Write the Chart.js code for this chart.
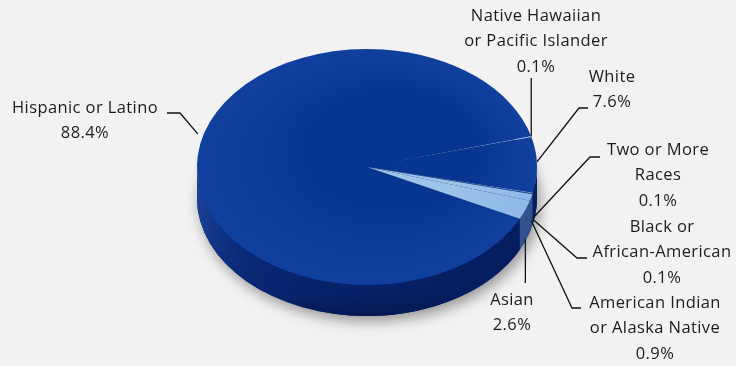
<!DOCTYPE html>
<html>
<head>
<meta charset="utf-8">
<script src="https://cdn.jsdelivr.net/npm/chart.js@4.4.1/dist/chart.umd.min.js"></script>
<style>
  html, body { margin: 0; padding: 0; background: #f2f2f2; }
  canvas { display: block; }
</style>
</head>
<body>
<canvas id="race-pie" width="736" height="366"></canvas>
<script>
// Data, in drawing order (clockwise from the Hispanic slice)
const categories = [
  ['Hispanic or Latino'],
  ['Native Hawaiian', 'or Pacific Islander'],
  ['White'],
  ['Two or More', 'Races'],
  ['Black or', 'African-American'],
  ['American Indian', 'or Alaska Native'],
  ['Asian']
];
const shares = [88.4, 0.1, 7.6, 0.1, 0.1, 0.9, 2.6];

// Look of the 3D pie
const DARK = '#073692';
const LIGHT = '#9cc3e8';
const sliceColors = [DARK, LIGHT, DARK, LIGHT, DARK, LIGHT, LIGHT];
const sideColors = ['#062674', '#3f68ae', '#062674', '#3f68ae', '#062674', '#3f68ae', '#3f68ae'];
const centerY = 167;      // centre of the top face on screen
const flat = 118 / 170;   // vertical squash of the top face
const depth = 31;         // thickness of the pie

// Where each label sits: text centre of first line, leader elbow/tail, anchor drop
const labelLayout = [
  { x: 85,  y: 108, path: [[180, 113], [167, 113]], drop: -22 },
  { x: 536, y: 16,  vertical: 78, drop: 0 },
  { x: 612, y: 77,  path: [[579, 108], [588, 108]], drop: -3 },
  { x: 658, y: 150, path: [[590, 157], [600, 157]], drop: 25 },
  { x: 662, y: 227, path: [[577, 258], [587, 258]], drop: 25 },
  { x: 655, y: 303, path: [[572, 308], [581, 308]], drop: 23 },
  { x: 512, y: 300, vertical: 283, drop: 29 }
];
const lineGap = 25.5;

// Draws side walls + shadow, then squashes the pie drawn by Chart.js
const pie3d = {
  id: 'pie3d',
  beforeDatasetsDraw(chart) {
    const ctx = chart.ctx;
    const arcs = chart.getDatasetMeta(0).data;
    const { x, y, outerRadius: r } = arcs[0];
    const ry = r * flat;

    // soft shadow under the disc
    ctx.save();
    ctx.shadowColor = 'rgba(0,0,0,0.4)';
    ctx.shadowBlur = 14;
    ctx.shadowOffsetX = 3;
    ctx.shadowOffsetY = 5;
    ctx.beginPath();
    ctx.ellipse(x, centerY + depth, r, ry, 0, 0, Math.PI * 2);
    ctx.fillStyle = '#051f5c';
    ctx.fill();
    ctx.restore();

    // front side walls, one piece per slice
    arcs.forEach(function(arc, i) {
      for (let k = -1; k <= 2; k++) {
        const s = Math.max(arc.startAngle, 2 * Math.PI * k);
        const e = Math.min(arc.endAngle, Math.PI + 2 * Math.PI * k);
        if (e <= s) continue;
        ctx.save();
        ctx.beginPath();
        ctx.ellipse(x, centerY, r, ry, 0, s, e);
        ctx.lineTo(x + r * Math.cos(e), centerY + depth + ry * Math.sin(e));
        ctx.ellipse(x, centerY + depth, r, ry, 0, e, s, true);
        ctx.closePath();
        ctx.fillStyle = sideColors[i];
        ctx.fill();
        // shading across the wall
        const g = ctx.createLinearGradient(x - r, 0, x + r, 0);
        g.addColorStop(0, 'rgba(70,120,220,0.35)');
        g.addColorStop(0.15, 'rgba(30,70,170,0.12)');
        g.addColorStop(0.5, 'rgba(0,0,30,0.08)');
        g.addColorStop(1, 'rgba(0,0,30,0.2)');
        ctx.fillStyle = g;
        ctx.fill();
        const v = ctx.createLinearGradient(0, centerY, 0, centerY + ry + depth);
        v.addColorStop(0, 'rgba(0,0,20,0)');
        v.addColorStop(0.85, 'rgba(0,0,20,0.08)');
        v.addColorStop(1, 'rgba(0,0,20,0.3)');
        ctx.fillStyle = v;
        ctx.fill();
        ctx.restore();
      }
    });

    // squash the circle into the top face
    ctx.save();
    ctx.translate(x, centerY);
    ctx.scale(1, flat);
    ctx.translate(-x, -y);
  },
  afterDatasetsDraw(chart) {
    const ctx = chart.ctx;
    const arcs = chart.getDatasetMeta(0).data;
    const { x, y, outerRadius: r } = arcs[0];

    // soft sheen toward the rim of the top face
    const sheen = ctx.createRadialGradient(x + r * 0.15, y - r * 0.15, r * 0.5, x, y, r);
    sheen.addColorStop(0, 'rgba(70,120,230,0)');
    sheen.addColorStop(1, 'rgba(70,120,230,0.15)');
    ctx.beginPath();
    ctx.arc(x, y, r, 0, Math.PI * 2);
    ctx.fillStyle = sheen;
    ctx.fill();
    ctx.restore();

    // labels with leader lines
    ctx.save();
    ctx.font = '16.5px "Open Sans", "Noto Sans", sans-serif';
    ctx.letterSpacing = '0.4px';
    ctx.fillStyle = '#1c1c1c';
    ctx.strokeStyle = '#111';
    ctx.lineWidth = 1.3;
    ctx.textAlign = 'center';
    ctx.textBaseline = 'middle';
    arcs.forEach(function(arc, i) {
      const lay = labelLayout[i];
      const mid = (arc.startAngle + arc.endAngle) / 2;
      const ax = x + r * Math.cos(mid);
      const ay = centerY + r * flat * Math.sin(mid) + lay.drop;
      ctx.beginPath();
      ctx.moveTo(ax, ay);
      if (lay.vertical !== undefined) {
        ctx.lineTo(ax, lay.vertical);
      } else {
        lay.path.forEach(function(p) { ctx.lineTo(p[0], p[1]); });
      }
      ctx.stroke();
      const lines = categories[i].concat([shares[i].toFixed(1) + '%']);
      lines.forEach(function(t, j) {
        ctx.fillText(t, lay.x, lay.y + j * lineGap);
      });
    });
    ctx.restore();
  }
};

new Chart(document.getElementById('race-pie'), {
  type: 'pie',
  data: {
    labels: categories,
    datasets: [{
      data: shares,
      backgroundColor: sliceColors,
      borderWidth: 0,
      hoverOffset: 0
    }]
  },
  options: {
    responsive: false,
    animation: false,
    rotation: 116,
    layout: { padding: { left: 197, right: 199, top: 0, bottom: 0 } },
    plugins: {
      legend: { display: false },
      tooltip: { enabled: false }
    }
  },
  plugins: [pie3d]
});
</script>
</body>
</html>
